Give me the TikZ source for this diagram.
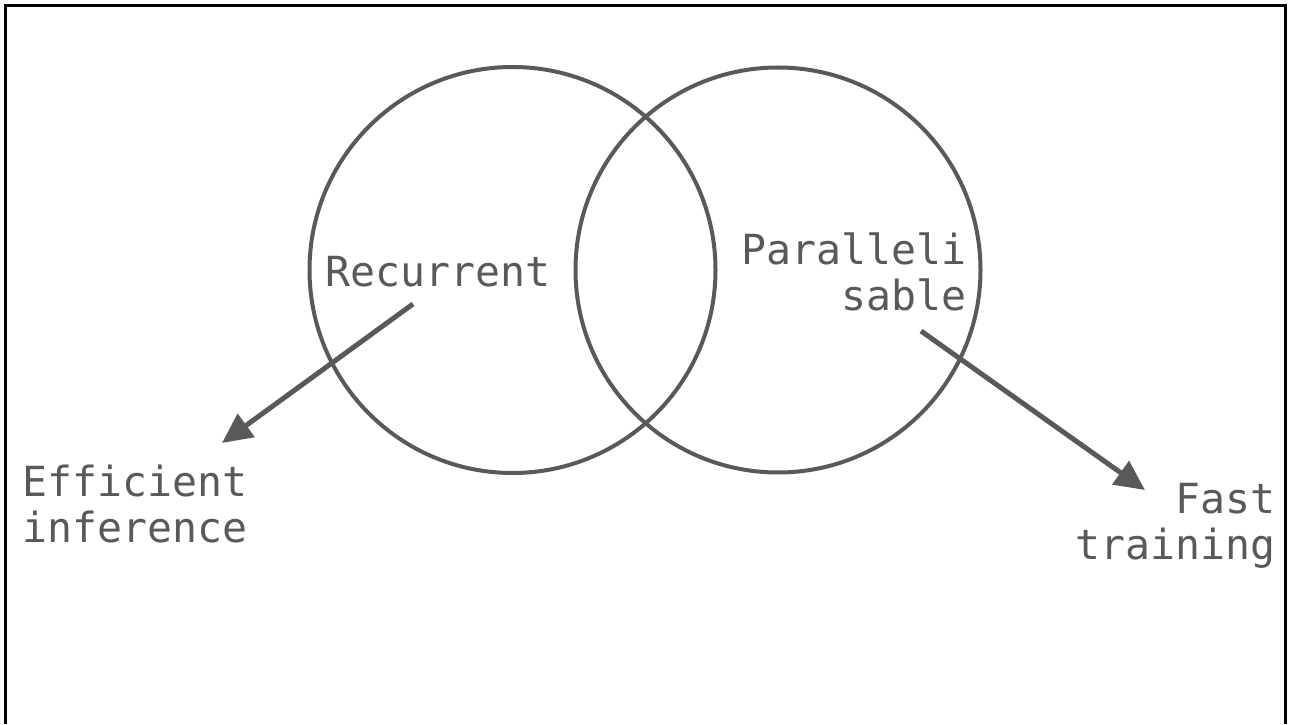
\documentclass[tikz,border=0pt]{standalone}
\usepackage{fontspec}
\setmonofont{DejaVu Sans Mono}
\usetikzlibrary{arrows.meta}
\definecolor{ink}{HTML}{595959}
\tikzset{
  venn/.style={draw=ink,line width=4pt},
  lbl/.style={inner sep=0pt,text=ink,font=\ttfamily\fontsize{41.5pt}{46pt}\selectfont},
  conn/.style={draw=ink,line width=5pt,-{Triangle[length=30pt,width=28pt]}}
}
\begin{document}
\begin{tikzpicture}[x=1pt,y=1pt]
\useasboundingbox (0,0) rectangle (1296,724);
\draw[line width=3pt] (5.5,0) -- (5.5,718) -- (1285.5,718) -- (1285.5,0);
\node[venn,circle,minimum size=406pt] (left) at (512.5,454) {};
\node[venn,circle,minimum size=405pt] (right) at (778,454) {};
\node[lbl,anchor=base west] (rec) at (325,437) {Recurrent};
\node[lbl,anchor=base east,align=right] (par) at (967,413) {Paralleli\\sable};
\node[lbl,anchor=base west,align=left] (eff) at (22,182) {Efficient\\inference};
\node[lbl,anchor=base east,align=right] (fast) at (1276,165) {Fast\\training};
\coordinate (s1) at (413,420);
\coordinate (t1) at (222,281);
\coordinate (s2) at (921,393);
\coordinate (t2) at (1145,234);
\draw[conn] (s1) -- (t1);
\draw[conn] (s2) -- (t2);
\end{tikzpicture}
\end{document}
